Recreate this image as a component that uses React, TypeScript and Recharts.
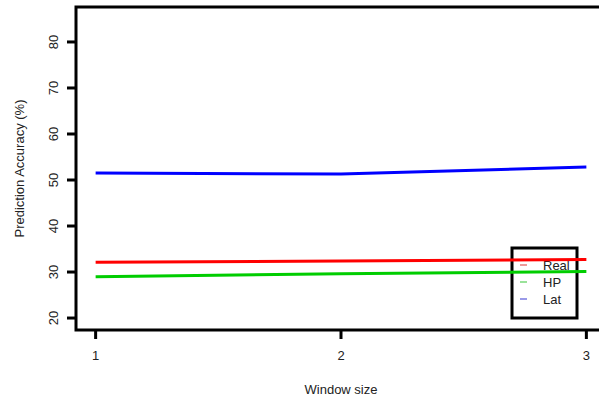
import { LineChart, Line, XAxis, YAxis, ReferenceArea } from 'recharts'

const windowSizes = [1, 2, 3]
const realAcc = [32.1, 32.4, 32.7]
const hpAcc = [29.0, 29.6, 30.1]
const latAcc = [51.5, 51.3, 52.8]

const seriesNames = ['Real', 'HP', 'Lat']
const seriesColors = ['#ff0000', '#00cd00', '#0000ff']
const legendColors = ['#e87878', '#78d878', '#7878e0']

const xTicks = [1, 2, 3]
const yTicks = [20, 30, 40, 50, 60, 70, 80]

// R-style padding: 4% on each side of the limits
const xDomain: [number, number] = [0.92, 3.08]
const yDomain: [number, number] = [17.4, 87.6]

const data = windowSizes.map((w, i) => ({
  w,
  Real: realAcc[i],
  HP: hpAcc[i],
  Lat: latAcc[i],
}))

const font = '"Liberation Sans", Arial, Helvetica, sans-serif'
const ink = '#222'

const YTick = ({ x, y, payload }: any) => (
  <text
    x={x - 7}
    y={y}
    transform={`rotate(-90, ${x - 7}, ${y})`}
    textAnchor="middle"
    fontSize={13}
    fontFamily={font}
    fill={ink}
  >
    {payload.value}
  </text>
)

const XTick = ({ x, y, payload }: any) => (
  <text x={x} y={y + 19} textAnchor="middle" fontSize={13} fontFamily={font} fill={ink}>
    {payload.value}
  </text>
)

const YLabel = ({ viewBox }: any) => {
  const cy = 7 + 323 / 2
  const cx = 24
  return (
    <text
      x={cx}
      y={cy}
      transform={`rotate(-90, ${cx}, ${cy})`}
      textAnchor="middle"
      fontSize={13}
      fontFamily={font}
      fill={ink}
    >
      Prediction Accuracy (%)
    </text>
  )
}

function Legend() {
  return (
    <svg width={599} height={401} style={{ position: 'absolute', left: 0, top: 0 }}>
      <rect x={512} y={248} width={65} height={70} fill="#fff" stroke="#000" strokeWidth={3} />
      {seriesNames.map((name, i) => (
        <g key={name}>
          <line x1={520} x2={527} y1={265 + i * 17} y2={265 + i * 17} stroke={legendColors[i]} strokeWidth={1.5} />
          <text x={543} y={270 + i * 17} fontSize={13} fontFamily={font} fill={ink}>
            {name}
          </text>
        </g>
      ))}
    </svg>
  )
}

export default function App() {
  return (
    <div
      style={{
        position: 'absolute',
        left: 0,
        top: 0,
        width: 599,
        height: 401,
        overflow: 'hidden',
        background: '#fff',
      }}
    >
      <Legend />
      <div style={{ position: 'absolute', left: 0, top: 0 }}>
        <LineChart
          width={615}
          height={401}
          data={data}
          margin={{ top: 7, right: 9, left: 0, bottom: 0 }}
        >
          <XAxis
            dataKey="w"
            type="number"
            domain={xDomain}
            ticks={xTicks}
            allowDataOverflow
            axisLine={false}
            tickSize={9}
            tickLine={{ stroke: '#000', strokeWidth: 3 }}
            tick={<XTick />}
            height={71}
            label={{
              value: 'Window size',
              position: 'insideBottom',
              offset: 7,
              fontSize: 13,
              fontFamily: font,
              fill: ink,
            }}
          />
          <YAxis
            type="number"
            domain={yDomain}
            ticks={yTicks}
            allowDataOverflow
            axisLine={false}
            tickSize={9}
            tickLine={{ stroke: '#000', strokeWidth: 3 }}
            tick={<YTick />}
            width={76}
            label={<YLabel />}
          />
          <ReferenceArea
            x1={xDomain[0]}
            x2={xDomain[1]}
            y1={yDomain[0]}
            y2={yDomain[1]}
            fill="none"
            fillOpacity={0}
            stroke="#000"
            strokeWidth={3}
            ifOverflow="visible"
          />
          {seriesNames.map((name, i) => (
            <Line
              key={name}
              dataKey={name}
              stroke={seriesColors[i]}
              strokeWidth={3}
              dot={false}
              isAnimationActive={false}
            />
          ))}
        </LineChart>
      </div>
    </div>
  )
}
